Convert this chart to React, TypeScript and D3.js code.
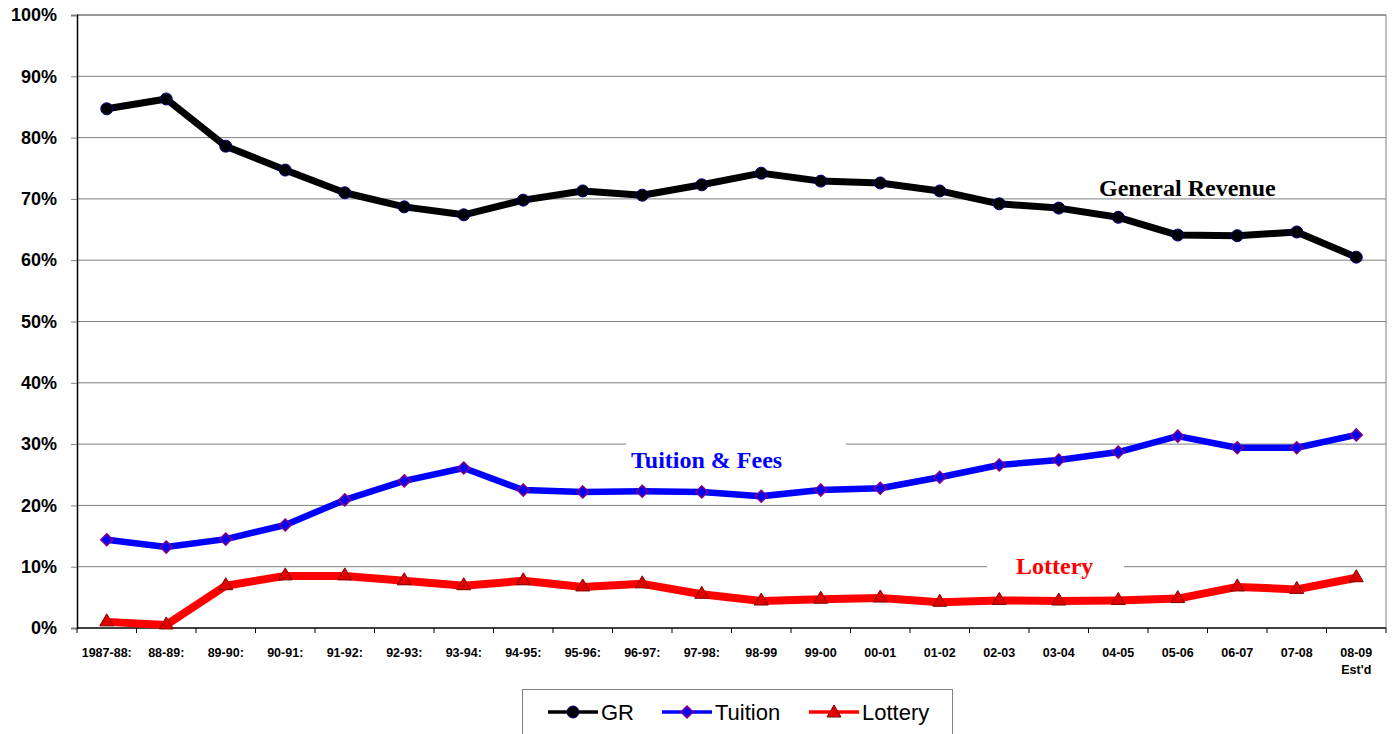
import * as d3 from "d3";
import React, { useEffect, useRef } from "react";

const years = [
  "1987-88:", "88-89:", "89-90:", "90-91:", "91-92:", "92-93:", "93-94:",
  "94-95:", "95-96:", "96-97:", "97-98:", "98-99", "99-00", "00-01", "01-02",
  "02-03", "03-04", "04-05", "05-06", "06-07", "07-08", "08-09",
];

const grValues = [
  84.7, 86.3, 78.6, 74.7, 71.0, 68.7, 67.4, 69.8, 71.3, 70.6, 72.3, 74.2,
  72.9, 72.6, 71.3, 69.2, 68.5, 67.0, 64.1, 64.0, 64.6, 60.5,
];

const tuitionValues = [
  14.4, 13.2, 14.5, 16.8, 20.9, 24.0, 26.1, 22.5, 22.2, 22.3, 22.2, 21.5,
  22.5, 22.8, 24.6, 26.6, 27.4, 28.7, 31.3, 29.4, 29.4, 31.5,
];

const lotteryValues = [
  1.0, 0.5, 6.9, 8.5, 8.5, 7.7, 6.9, 7.7, 6.7, 7.2, 5.5, 4.4, 4.7, 4.9, 4.2,
  4.5, 4.4, 4.5, 4.8, 6.7, 6.3, 8.2,
];

const yTicks = [0, 10, 20, 30, 40, 50, 60, 70, 80, 90, 100];

const App: React.FC = () => {
  const svgRef = useRef<SVGSVGElement | null>(null);

  useEffect(() => {
    const svg = d3.select(svgRef.current);
    svg.selectAll("*").remove();
    const width = 1394;
    const height = 734;
    const left = 77;
    const right = 1386;
    const top = 15;
    const bottom = 628;

    const x = d3.scaleBand().domain(years).range([left, right]);
    const y = d3.scaleLinear().domain([0, 100]).range([bottom, top]);
    const cx = (i: number) => x(years[i])! + x.bandwidth() / 2;

    // gridlines
    svg
      .append("g")
      .selectAll("line")
      .data(yTicks.filter((t) => t > 0 && t < 100))
      .join("line")
      .attr("x1", left)
      .attr("x2", right)
      .attr("y1", (d) => y(d))
      .attr("y2", (d) => y(d))
      .attr("stroke", "#808080")
      .attr("stroke-width", 1);

    svg
      .append("line")
      .attr("x1", left)
      .attr("x2", right)
      .attr("y1", y(100))
      .attr("y2", y(100))
      .attr("stroke", "#333");
    svg
      .append("line")
      .attr("x1", right)
      .attr("x2", right)
      .attr("y1", top)
      .attr("y2", bottom)
      .attr("stroke", "#808080");

    // y axis
    const yAxis = svg
      .append("g")
      .attr("transform", `translate(${left},0)`)
      .call(
        d3
          .axisLeft(y)
          .tickValues(yTicks)
          .tickSize(6)
          .tickFormat((d) => `${d}%`),
      );
    yAxis.select(".domain").attr("stroke", "#000").attr("stroke-width", 1.5);
    yAxis.selectAll(".tick line").attr("stroke", "#808080");
    yAxis
      .selectAll("text")
      .attr("x", -20)
      .attr("font-family", "Arial, 'Liberation Sans', sans-serif")
      .attr("font-weight", "bold")
      .attr("font-size", 18)
      .attr("fill", "#000");

    // x axis
    const xg = svg.append("g");
    xg.append("line")
      .attr("x1", left)
      .attr("x2", right)
      .attr("y1", bottom)
      .attr("y2", bottom)
      .attr("stroke", "#000")
      .attr("stroke-width", 1.5);
    xg.selectAll("line.tick")
      .data([...years.map((d) => x(d)!), right])
      .join("line")
      .attr("class", "tick")
      .attr("x1", (d) => d)
      .attr("x2", (d) => d)
      .attr("y1", bottom)
      .attr("y2", bottom + 5)
      .attr("stroke", "#000");
    xg.selectAll("text.lbl")
      .data(years)
      .join("text")
      .attr("class", "lbl")
      .attr("x", (_d, i) => cx(i))
      .attr("y", 657)
      .attr("text-anchor", "middle")
      .attr("font-family", "Arial, 'Liberation Sans', sans-serif")
      .attr("font-weight", "bold")
      .attr("font-size", 12.5)
      .text((d) => d);
    xg.append("text")
      .attr("x", cx(years.length - 1))
      .attr("y", 674)
      .attr("text-anchor", "middle")
      .attr("font-family", "Arial, 'Liberation Sans', sans-serif")
      .attr("font-weight", "bold")
      .attr("font-size", 12.5)
      .text("Est'd");

    // annotation labels with white background
    const labels = [
      { text: "General Revenue", v: 70, tx: 1099, x0: 0, x1: 0, color: "#000", dy: -3, bg: false },
      { text: "Tuition & Fees", v: 30, tx: 631, x0: 626, x1: 846, color: "#0000ff", dy: 24, bg: true },
      { text: "Lottery", v: 10, tx: 1016, x0: 987, x1: 1124, color: "#ff0000", dy: 7, bg: true },
    ];
    labels.forEach((l) => {
      if (l.bg) {
        svg
          .append("rect")
          .attr("x", l.x0)
          .attr("y", y(l.v) - 2)
          .attr("width", l.x1 - l.x0)
          .attr("height", 4)
          .attr("fill", "#fff");
      }
    });

    const line = d3
      .line<number>()
      .x((_d, i) => cx(i))
      .y((d) => y(d));

    const series = [
      { values: grValues, color: "#000", width: 7 },
      { values: tuitionValues, color: "#0000ff", width: 6.5 },
      { values: lotteryValues, color: "#ff0000", width: 8 },
    ];
    series.forEach((s) => {
      svg
        .append("path")
        .datum(s.values)
        .attr("d", line)
        .attr("fill", "none")
        .attr("stroke", s.color)
        .attr("stroke-width", s.width)
        .attr("stroke-linejoin", "round");
    });

    const drawCircle = (g: any, px: number, py: number) =>
      g
        .append("circle")
        .attr("cx", px)
        .attr("cy", py)
        .attr("r", 6)
        .attr("fill", "#000")
        .attr("stroke", "#000080")
        .attr("stroke-width", 1);
    const drawDiamond = (g: any, px: number, py: number) =>
      g
        .append("path")
        .attr("d", `M${px},${py - 6}L${px + 6},${py}L${px},${py + 6}L${px - 6},${py}Z`)
        .attr("fill", "#0000ff")
        .attr("stroke", "#800080")
        .attr("stroke-width", 1.5);
    const drawTriangle = (g: any, px: number, py: number) =>
      g
        .append("path")
        .attr("d", `M${px},${py - 7}L${px + 7},${py + 5}L${px - 7},${py + 5}Z`)
        .attr("fill", "#e00000")
        .attr("stroke", "#800000")
        .attr("stroke-width", 1);

    const mg = svg.append("g");
    grValues.forEach((v, i) => drawCircle(mg, cx(i), y(v)));
    tuitionValues.forEach((v, i) => drawDiamond(mg, cx(i), y(v)));
    lotteryValues.forEach((v, i) => drawTriangle(mg, cx(i), y(v) - 1));

    labels.forEach((l) => {
      svg
        .append("text")
        .attr("x", l.tx)
        .attr("y", y(l.v) + l.dy)
        .attr("font-family", "'Times New Roman', 'Liberation Serif', serif")
        .attr("font-weight", "bold")
        .attr("font-size", 24)
        .attr("fill", l.color)
        .text(l.text);
    });

    // legend
    const lg = svg.append("g");
    lg.append("rect")
      .attr("x", 522.5)
      .attr("y", 689.5)
      .attr("width", 430)
      .attr("height", 50)
      .attr("fill", "#fff")
      .attr("stroke", "#808080");
    const items = [
      { name: "GR", x0: 548, color: "#000", draw: drawCircle },
      { name: "Tuition", x0: 662, color: "#0000ff", draw: drawDiamond },
      { name: "Lottery", x0: 809, color: "#ff0000", draw: drawTriangle },
    ];
    items.forEach((it) => {
      lg.append("line")
        .attr("x1", it.x0)
        .attr("x2", it.x0 + 50)
        .attr("y1", 712)
        .attr("y2", 712)
        .attr("stroke", it.color)
        .attr("stroke-width", 3.5);
      it.draw(lg, it.x0 + 25, 712);
      lg.append("text")
        .attr("x", it.x0 + 53)
        .attr("y", 720)
        .attr("font-family", "Arial, 'Liberation Sans', sans-serif")
        .attr("font-size", 22)
        .attr("fill", "#000")
        .text(it.name);
    });

    svg.attr("width", width).attr("height", height);
  }, []);

  return (
    <svg
      ref={svgRef}
      width={1394}
      height={734}
      style={{ position: "absolute", left: 0, top: 0, background: "#fff" }}
    />
  );
};

export default App;
